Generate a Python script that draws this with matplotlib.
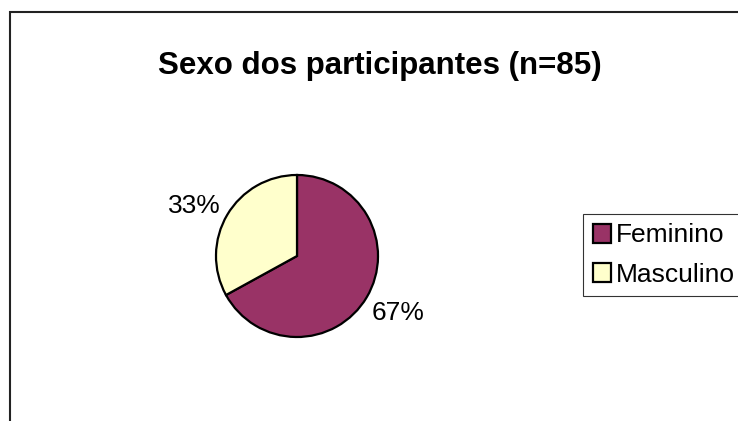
import matplotlib
matplotlib.use("Agg")
import matplotlib.pyplot as plt
from matplotlib.patches import Rectangle, Patch

plt.rcParams['font.family'] = ['Liberation Sans', 'DejaVu Sans']

# Data
categories = ["Feminino", "Masculino"]
percentages = [67, 33]
colors = ["#993366", "#FFFFCC"]
title = "Sexo dos participantes (n=85)"

W, H = 738, 421
fig = plt.figure(figsize=(W / 100, H / 100), dpi=100)
fig.patch.set_facecolor("white")

# Outer chart-area frame (runs off the right and bottom edges)
fig.patches.append(Rectangle((10 / W, -0.2), 1.2, 1 - 11.5 / H + 0.2,
                             transform=fig.transFigure, fill=False,
                             edgecolor="#222222", linewidth=1.5, zorder=0))

# Pie axes: centre (297, 256) px, radius 81 px
cx, cy, r = 297, 256, 81
ax = fig.add_axes([(cx - r) / W, (H - cy - r) / H, 2 * r / W, 2 * r / H])
wedges, texts = ax.pie(
    percentages,
    colors=colors,
    startangle=90,
    counterclock=False,
    labels=[f"{p}%" for p in percentages],
    labeldistance=1.42,
    radius=1.0,
    wedgeprops=dict(edgecolor="black", linewidth=1.6),
    textprops=dict(fontsize=19, color="black"),
)
# Data labels placed outside the slices, Excel-style
label_pos = [(1.247, -0.673), (-1.27, 0.648)]
for t, pos in zip(texts, label_pos):
    t.set_position(pos)
    t.set_horizontalalignment("center")
    t.set_verticalalignment("center_baseline")
ax.set_xlim(-1, 1)
ax.set_ylim(-1, 1)
ax.set_aspect("equal")
ax.axis("off")

fig.text(380 / W, 1 - 74 / H, title, fontsize=22.5, fontweight="bold",
         ha="center", va="baseline")

handles = [Patch(facecolor=c, edgecolor="black", linewidth=1.6) for c in colors]
leg = fig.legend(handles, categories, loc="upper left",
                 bbox_to_anchor=(583 / W, 1 - 214 / H), borderaxespad=0,
                 fontsize=19, frameon=True, fancybox=False,
                 handlelength=0.7, handleheight=0.7, handletextpad=0.2,
                 labelspacing=0.58, borderpad=0.36)
leg.get_frame().set_edgecolor("black")
leg.get_frame().set_linewidth(0.8)

fig.savefig("out.png", dpi=100)
